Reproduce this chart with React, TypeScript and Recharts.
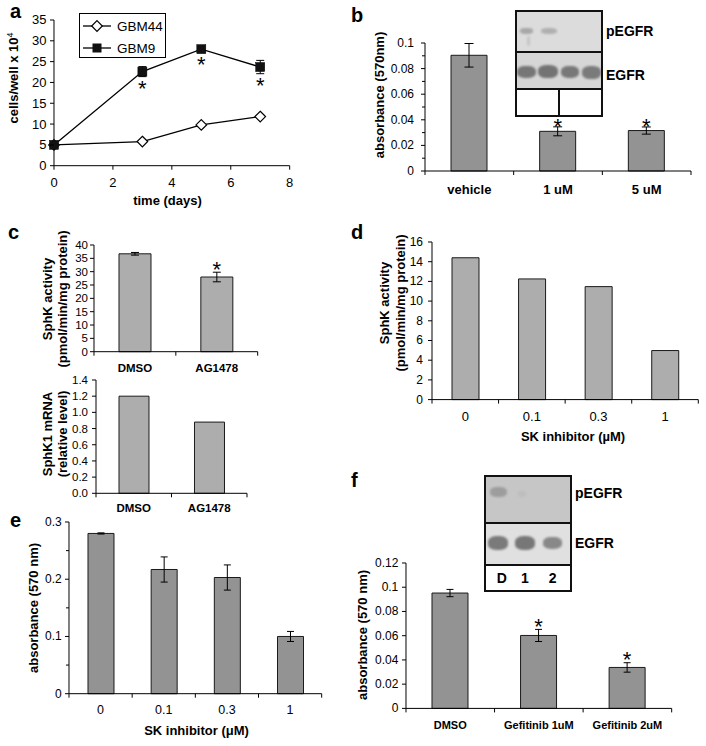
import React from 'react';
import { BarChart, Bar, XAxis, YAxis, ErrorBar, LabelList, LineChart, Line } from 'recharts';

const FONT = '"Liberation Sans", Arial, Helvetica, sans-serif';

// ---------- Panel a : growth curves ----------
const aDays = [0, 3, 5, 7];
const aGBM44 = [5, 5.8, 9.8, 11.8];
const aGBM9 = [5, 22.6, 28, 23.7];
const aGBM9Err = [0, 1.2, 0.7, 1.6];
const aGBM9Sig = [false, true, true, true];
const aXTicks = [0, 2, 4, 6, 8];
const aYTicks = [0, 5, 10, 15, 20, 25, 30, 35];

// ---------- Panel b ----------
const bCats = ['vehicle', '1 uM', '5 uM'];
const bVals = [0.0904, 0.031, 0.0316];
const bErr = [0.0092, 0.0035, 0.0028];
const bSig = [false, true, true];
const bYTicks = [0, 0.01, 0.02, 0.03, 0.04, 0.05, 0.06, 0.07, 0.08, 0.09, 0.1];
const bYMajor = [0, 0.02, 0.04, 0.06, 0.08, 0.1];

// ---------- Panel c ----------
const cCats = ['DMSO', 'AG1478'];
const cActivity = [36.7, 28];
const cActivityErr = [0.5, 1.8];
const cActivitySig = [false, true];
const cActTicks = [0, 5, 10, 15, 20, 25, 30, 35, 40];
const cMrna = [1.2, 0.88];
const cMrnaTicks = [0, 0.2, 0.4, 0.6, 0.8, 1.0, 1.2, 1.4];

// ---------- Panel d ----------
const dCats = ['0', '0.1', '0.3', '1'];
const dVals = [14.4, 12.25, 11.47, 4.98];
const dTicks = [0, 2, 4, 6, 8, 10, 12, 14, 16];

// ---------- Panel e ----------
const eCats = ['0', '0.1', '0.3', '1'];
const eVals = [0.28, 0.217, 0.203, 0.1];
const eErr = [0.001, 0.022, 0.022, 0.0088];
const eTicks = [0, 0.05, 0.1, 0.15, 0.2, 0.25, 0.3];
const eMajor = [0, 0.1, 0.2, 0.3];

// ---------- Panel f ----------
const fCats = ['DMSO', 'Gefitinib 1uM', 'Gefitinib 2uM'];
const fVals = [0.0952, 0.0602, 0.0338];
const fErr = [0.003, 0.005, 0.0039];
const fSig = [false, true, true];
const fTicks = [0, 0.02, 0.04, 0.06, 0.08, 0.1, 0.12];

const fmtPlain = (v: number) => String(Math.round(v * 1000) / 1000);
const fmtOne = (v: number) => v.toFixed(1);

function makeYTick(major: number[], fmt: (v: number) => string, fontSize: number, gap: number, len = 4, minorLen = 3) {
  return (props: any) => {
    const { x, y, payload } = props;
    const v = payload.value;
    const isMajor = major.some((m) => Math.abs(m - v) < 1e-9);
    const l = isMajor ? len : minorLen;
    return (
      <g>
        <line x1={x - l} x2={x} y1={y} y2={y} stroke="#000" strokeWidth={1} />
        {isMajor && (
          <text x={x - len - gap} y={y} textAnchor="end" dominantBaseline="central" fontSize={fontSize} fontFamily={FONT} fill="#000">
            {fmt(v)}
          </text>
        )}
      </g>
    );
  };
}

function makeCatTick(n: number, bw: number, fontSize: number, bold: boolean, dy: number, len = 4) {
  return (props: any) => {
    const { x, y, payload } = props;
    const i = payload && payload.index != null ? payload.index : props.index;
    return (
      <g>
        <line x1={x - bw / 2} x2={x - bw / 2} y1={y} y2={y + len} stroke="#000" strokeWidth={1} />
        {i === n - 1 && <line x1={x + bw / 2} x2={x + bw / 2} y1={y} y2={y + len} stroke="#000" strokeWidth={1} />}
        <text x={x} y={y + dy} textAnchor="middle" dominantBaseline="central" fontSize={fontSize} fontWeight={bold ? 'bold' : 'normal'} fontFamily={FONT} fill="#000">
          {payload.value}
        </text>
      </g>
    );
  };
}

function makeNumXTick(fontSize: number, dy: number, len = 4) {
  return (props: any) => {
    const { x, y, payload } = props;
    return (
      <g>
        <line x1={x} x2={x} y1={y} y2={y + len} stroke="#000" strokeWidth={1} />
        <text x={x} y={y + dy} textAnchor="middle" dominantBaseline="central" fontSize={fontSize} fontFamily={FONT} fill="#000">
          {payload.value}
        </text>
      </g>
    );
  };
}

type BarPanelProps = {
  x0: number; y0: number; w: number; h: number;
  cats: string[]; vals: number[]; err?: number[]; sig?: boolean[];
  yMax: number; yTicks: number[]; yMajor?: number[]; yFmt: (v: number) => string;
  fill: string; barSize: number; capW?: number;
  yFont: number; yGap: number;
  xFont: number; xBold: boolean; xDy: number;
  starGap?: number; starSize?: number;
};

function BarPanel(p: BarPanelProps) {
  const YW = 70, MT = 30, MR = 14, XH = 40;
  const data = p.cats.map((c, i) => ({ c, v: p.vals[i], e: p.err ? p.err[i] : 0 }));
  const bw = p.w / p.cats.length;
  const ppu = p.h / p.yMax;
  const major = p.yMajor ?? p.yTicks;
  const starSize = p.starSize ?? 22;
  const starGap = p.starGap ?? 3;
  const StarContent = (props: any) => {
    const { x, y, width, index } = props;
    if (!p.sig || !p.sig[index]) return null;
    const top = Number(y) - (p.err ? p.err[index] : 0) * ppu;
    const base = top - starGap + 0.43 * starSize;
    return (
      <text x={Number(x) + Number(width) / 2} y={base} textAnchor="middle" fontSize={starSize} fontFamily={FONT} fill="#000">
        *
      </text>
    );
  };
  return (
    <div style={{ position: 'absolute', left: p.x0 - YW, top: p.y0 - MT }}>
      <BarChart
        width={YW + p.w + MR}
        height={MT + p.h + XH}
        data={data}
        margin={{ top: MT, right: MR, left: 0, bottom: 0 }}
        barCategoryGap={0}
      >
        <XAxis
          dataKey="c"
          type="category"
          interval={0}
          tickLine={false}
          tickSize={0}
          tickMargin={0}
          height={XH}
          axisLine={{ stroke: '#000', strokeWidth: 1 }}
          tick={makeCatTick(p.cats.length, bw, p.xFont, p.xBold, p.xDy)}
        />
        <YAxis
          type="number"
          domain={[0, p.yMax]}
          ticks={p.yTicks}
          interval={0}
          width={YW}
          tickLine={false}
          tickSize={0}
          tickMargin={0}
          axisLine={{ stroke: '#000', strokeWidth: 1 }}
          tick={makeYTick(major, p.yFmt, p.yFont, p.yGap)}
        />
        <Bar dataKey="v" fill={p.fill} stroke="#1a1a1a" strokeWidth={1} barSize={p.barSize} isAnimationActive={false}>
          {p.err && <ErrorBar dataKey="e" width={p.capW ?? 4} stroke="#000" strokeWidth={1} direction="y" />}
          {p.sig && <LabelList dataKey="v" content={StarContent} />}
        </Bar>
      </BarChart>
    </div>
  );
}

const DiamondDot = (props: any) => {
  const { cx, cy, index } = props;
  const r = 5.3;
  return (
    <path
      key={`dm-${index}`}
      d={`M${cx},${cy - r} L${cx + r},${cy} L${cx},${cy + r} L${cx - r},${cy} Z`}
      fill="#fff"
      stroke="#000"
      strokeWidth={1.2}
    />
  );
};

const SquareDot = (props: any) => {
  const { cx, cy, index } = props;
  return <rect key={`sq-${index}`} x={cx - 4.5} y={cy - 4.5} width={9} height={9} fill="#111" stroke="#000" strokeWidth={0.5} />;
};

function PanelA() {
  const YW = 50, MT = 20, MR = 20, XH = 40;
  const x0 = 54.3, y0 = 20, w = 235.7, h = 145.7;
  const data = aDays.map((t, i) => ({ t, g44: aGBM44[i], g9: aGBM9[i], e9: aGBM9Err[i] }));
  const ppu = h / 35;
  const starSize = 22;
  const StarBelow = (props: any) => {
    const { x, y, index } = props;
    if (!aGBM9Sig[index]) return null;
    const bottom = Number(y) + aGBM9Err[index] * ppu;
    const base = bottom + 4 + 0.716 * starSize;
    return (
      <text x={Number(x)} y={base} textAnchor="middle" fontSize={starSize} fontFamily={FONT} fill="#000">
        *
      </text>
    );
  };
  return (
    <div style={{ position: 'absolute', left: x0 - YW, top: y0 - MT }}>
      <LineChart width={YW + w + MR} height={MT + h + XH} data={data} margin={{ top: MT, right: MR, left: 0, bottom: 0 }}>
        <XAxis
          dataKey="t"
          type="number"
          domain={[0, 8]}
          ticks={aXTicks}
          interval={0}
          tickLine={false}
          tickSize={0}
          tickMargin={0}
          height={XH}
          axisLine={{ stroke: '#000', strokeWidth: 1 }}
          tick={makeNumXTick(13, 17)}
        />
        <YAxis
          type="number"
          domain={[0, 35]}
          ticks={aYTicks}
          interval={0}
          width={YW}
          tickLine={false}
          tickSize={0}
          tickMargin={0}
          axisLine={{ stroke: '#000', strokeWidth: 1 }}
          tick={makeYTick(aYTicks, fmtPlain, 13, 3.5)}
        />
        <Line dataKey="g44" stroke="#000" strokeWidth={1.3} dot={DiamondDot} isAnimationActive={false} />
        <Line dataKey="g9" stroke="#000" strokeWidth={1.3} dot={SquareDot} isAnimationActive={false}>
          <ErrorBar dataKey="e9" width={4} stroke="#000" strokeWidth={1} direction="y" />
          <LabelList dataKey="g9" content={StarBelow} />
        </Line>
      </LineChart>
    </div>
  );
}

function LegendA() {
  return (
    <div
      style={{
        position: 'absolute', left: 79, top: 13, width: 87, height: 45, boxSizing: 'border-box',
        border: '1.5px solid #000', background: '#fff', fontFamily: FONT,
      }}
    >
      <svg width={87} height={45} style={{ position: 'absolute', left: -1.5, top: -1.5 }}>
        <line x1={4} x2={32} y1={13} y2={13} stroke="#000" strokeWidth={1.3} />
        <path d="M18,7.7 L23.3,13 L18,18.3 L12.7,13 Z" fill="#fff" stroke="#000" strokeWidth={1.2} />
        <text x={38} y={13} dominantBaseline="central" fontSize={13.5} fontFamily={FONT} fill="#000">GBM44</text>
        <line x1={4} x2={32} y1={35} y2={35} stroke="#000" strokeWidth={1.3} />
        <rect x={13.5} y={30.5} width={9} height={9} fill="#111" />
        <text x={38} y={35} dominantBaseline="central" fontSize={13.5} fontFamily={FONT} fill="#000">GBM9</text>
      </svg>
    </div>
  );
}

const VLabel = ({ cx, cy, children, size = 13, lh = 15 }: any) => (
  <div
    style={{
      position: 'absolute', left: cx, top: cy, transform: 'translate(-50%,-50%) rotate(-90deg)',
      whiteSpace: 'nowrap', fontFamily: FONT, fontWeight: 'bold', fontSize: size, lineHeight: `${lh}px`,
      textAlign: 'center', color: '#000',
    }}
  >
    {children}
  </div>
);

const HLabel = ({ cx, cy, children, size = 13 }: any) => (
  <div
    style={{
      position: 'absolute', left: cx, top: cy, transform: 'translate(-50%,-50%)',
      whiteSpace: 'nowrap', fontFamily: FONT, fontWeight: 'bold', fontSize: size, lineHeight: `${size + 2}px`, color: '#000',
    }}
  >
    {children}
  </div>
);

const Letter = ({ x, y, ch }: any) => (
  <div style={{ position: 'absolute', left: x, top: y, fontFamily: FONT, fontWeight: 'bold', fontSize: 20, lineHeight: '20px', color: '#000' }}>
    {ch}
  </div>
);

const Band = ({ l, t, w, h, c, o = 1, blur = 1 }: any) => (
  <div style={{ position: 'absolute', left: l, top: t, width: w, height: h, background: c, opacity: o, borderRadius: '40%', filter: `blur(${blur}px)` }} />
);

function BlotB() {
  return (
    <div style={{ position: 'absolute', left: 515, top: 10, width: 88, height: 107, boxSizing: 'border-box', border: '2px solid #111', background: '#fff', overflow: 'hidden' }}>
      <div style={{ position: 'absolute', left: 0, top: 0, width: 84, height: 39, background: '#dcdcdc' }}>
        <Band l={3} t={16} w={13} h={6} c="#9a9a9a" o={0.8} />
        <Band l={24} t={16} w={16} h={6} c="#a4a4a4" o={0.8} />
        <Band l={10} t={24} w={3} h={10} c="#b5b5b5" o={0.6} />
      </div>
      <div style={{ position: 'absolute', left: 0, top: 39, width: 84, height: 2, background: '#111' }} />
      <div style={{ position: 'absolute', left: 0, top: 41, width: 84, height: 35, background: '#d6d6d6' }}>
        <Band l={0} t={13} w={19} h={12} c="#767676" />
        <Band l={21} t={12} w={20} h={13} c="#737373" />
        <Band l={44} t={13} w={18} h={12} c="#787878" />
        <Band l={65} t={13} w={19} h={13} c="#7a7a7a" />
      </div>
      <div style={{ position: 'absolute', left: 0, top: 76, width: 84, height: 2, background: '#111' }} />
      <div style={{ position: 'absolute', left: 41, top: 78, width: 2, height: 27, background: '#111' }} />
    </div>
  );
}

function BlotF() {
  return (
    <div style={{ position: 'absolute', left: 484, top: 475, width: 88, height: 117, boxSizing: 'border-box', border: '2px solid #111', background: '#fff', overflow: 'hidden' }}>
      <div style={{ position: 'absolute', left: 0, top: 0, width: 84, height: 45, background: '#c6c6c6' }}>
        <Band l={4} t={10} w={17} h={10} c="#999" o={0.9} />
        <Band l={32} t={14} w={8} h={6} c="#b8b8b8" o={0.6} />
      </div>
      <div style={{ position: 'absolute', left: 0, top: 45, width: 84, height: 2, background: '#111' }} />
      <div style={{ position: 'absolute', left: 0, top: 47, width: 84, height: 40, background: '#e0e0e0' }}>
        <Band l={2} t={12} w={20} h={14} c="#7a7a7a" />
        <Band l={29} t={12} w={20} h={14} c="#777" />
        <Band l={57} t={13} w={19} h={12} c="#888" />
      </div>
      <div style={{ position: 'absolute', left: 0, top: 87, width: 84, height: 2, background: '#111' }} />
      {[['D', 15.7], ['1', 39], ['2', 66.7]].map(([t, x]) => (
        <div key={String(t)} style={{ position: 'absolute', left: Number(x), top: 101, transform: 'translate(-50%,-50%)', fontFamily: FONT, fontWeight: 'bold', fontSize: 14, lineHeight: '16px' }}>
          {t}
        </div>
      ))}
    </div>
  );
}

const BlotLabel = ({ x, cy, children }: any) => (
  <div style={{ position: 'absolute', left: x, top: cy, transform: 'translateY(-50%)', fontFamily: FONT, fontWeight: 'bold', fontSize: 14, lineHeight: '16px', whiteSpace: 'nowrap' }}>
    {children}
  </div>
);

export default function App() {
  const dark = '#939393';
  const light = '#adadad';
  return (
    <div style={{ position: 'absolute', left: 0, top: 0, width: 706, height: 746, background: '#fff', overflow: 'hidden' }}>
      {/* Panel a */}
      <PanelA />
      <LegendA />
      <VLabel cx={12} cy={78}>
        cells/well x 10<sup style={{ fontSize: 9, fontWeight: 'normal' }}>4</sup>
      </VLabel>
      <HLabel cx={167.5} cy={200}>time (days)</HLabel>
      <Letter x={10} y={1} ch="a" />

      {/* Panel b */}
      <BarPanel
        x0={425} y0={42.7} w={266} h={128}
        cats={bCats} vals={bVals} err={bErr} sig={bSig}
        yMax={0.1} yTicks={bYTicks} yMajor={bYMajor} yFmt={fmtPlain}
        fill={dark} barSize={36} capW={4.5}
        yFont={12} yGap={7} xFont={13} xBold={true} xDy={18}
        starGap={2} starSize={22}
      />
      <VLabel cx={378.5} cy={95}>absorbance (570nm)</VLabel>
      <BlotB />
      <BlotLabel x={606} cy={31}>pEGFR</BlotLabel>
      <BlotLabel x={606} cy={75}>EGFR</BlotLabel>
      <Letter x={351} y={5} ch="b" />

      {/* Panel c */}
      <BarPanel
        x0={94.3} y0={245} w={163.7} h={106.7}
        cats={cCats} vals={cActivity} err={cActivityErr} sig={cActivitySig}
        yMax={40} yTicks={cActTicks} yFmt={fmtPlain}
        fill={light} barSize={32} capW={4}
        yFont={11.5} yGap={2} xFont={11.5} xBold={true} xDy={16.5}
        starGap={5} starSize={22}
      />
      <VLabel cx={55} cy={299}>
        SphK activity
        <br />
        (pmol/min/mg protein)
      </VLabel>
      <BarPanel
        x0={95.7} y0={380} w={151} h={113.3}
        cats={cCats} vals={cMrna}
        yMax={1.4} yTicks={cMrnaTicks} yFmt={fmtOne}
        fill={light} barSize={30}
        yFont={11.5} yGap={4} xFont={11.5} xBold={true} xDy={15}
      />
      <VLabel cx={55} cy={434}>
        SphK1 mRNA
        <br />
        (relative level)
      </VLabel>
      <Letter x={8} y={222} ch="c" />

      {/* Panel d */}
      <BarPanel
        x0={431.7} y0={241.7} w={266.3} h={157.6}
        cats={dCats} vals={dVals}
        yMax={16} yTicks={dTicks} yFmt={fmtPlain}
        fill={light} barSize={27}
        yFont={12} yGap={5} xFont={13} xBold={false} xDy={17}
      />
      <VLabel cx={393} cy={303} lh={16}>
        SphK activity
        <br />
        (pmol/min/mg protein)
      </VLabel>
      <HLabel cx={573} cy={436}>SK inhibitor (µM)</HLabel>
      <Letter x={351} y={222} ch="d" />

      {/* Panel e */}
      <BarPanel
        x0={69} y0={522.3} w={252.7} h={171.7}
        cats={eCats} vals={eVals} err={eErr}
        yMax={0.3} yTicks={eTicks} yMajor={eMajor} yFmt={fmtPlain}
        fill={dark} barSize={26} capW={3.5}
        yFont={12} yGap={3.3} xFont={12.5} xBold={false} xDy={16.5}
      />
      <VLabel cx={33} cy={608}>absorbance (570 nm)</VLabel>
      <HLabel cx={196.5} cy={730}>SK inhibitor (μM)</HLabel>
      <Letter x={10} y={510} ch="e" />

      {/* Panel f */}
      <BarPanel
        x0={406} y0={563.3} w={265.7} h={145.4}
        cats={fCats} vals={fVals} err={fErr} sig={fSig}
        yMax={0.12} yTicks={fTicks} yFmt={fmtPlain}
        fill={dark} barSize={36} capW={3.5}
        yFont={12} yGap={3.7} xFont={11} xBold={true} xDy={17}
        starGap={5} starSize={22}
      />
      <VLabel cx={362} cy={635}>absorbance (570 nm)</VLabel>
      <BlotF />
      <BlotLabel x={575} cy={493}>pEGFR</BlotLabel>
      <BlotLabel x={575} cy={542.5}>EGFR</BlotLabel>
      <Letter x={351} y={470} ch="f" />
    </div>
  );
}
